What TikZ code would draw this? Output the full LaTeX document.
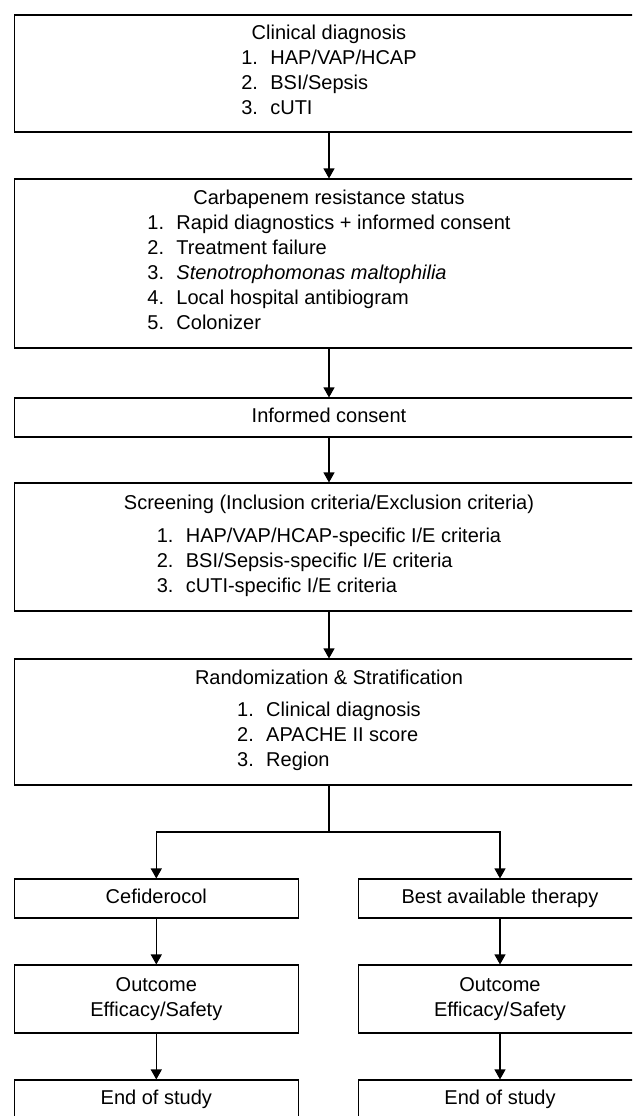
\documentclass[tikz,border=0pt]{standalone}
\usepackage{fontspec}
\setmainfont{Liberation Sans}
\usetikzlibrary{arrows.meta}

% numero de item con sangria fija
\newcommand{\itemnum}[2]{\makebox[29pt][l]{#1}#2}

\begin{document}
\begin{tikzpicture}[x=1pt, y=-1pt,
    caja/.style={draw, line width=1.1pt, align=center, inner sep=0pt,
      font=\fontsize{20}{25}\selectfont},
    ancha/.style={caja, minimum width=629pt},
    rama/.style={caja, minimum width=283.5pt},
    flecha/.style={line width=1.1pt, -{Triangle[width=11pt,length=10pt]}}]
    \useasboundingbox (0,0) rectangle (632,1116);
    \clip (0,0) rectangle (632,1116);

    % -----------------------------------------------------
    % 1) Diagnostico clinico
    % -----------------------------------------------------
    \node[ancha, minimum height=117pt] (diag) at (329,73.5)
      {Clinical diagnosis\\
       \begin{tabular}[t]{@{}l@{}}
         \itemnum{1.}{HAP/VAP/HCAP}\\
         \itemnum{2.}{BSI/Sepsis}\\
         \itemnum{3.}{cUTI}
       \end{tabular}};

    % -----------------------------------------------------
    % 2) Resistencia a carbapenemicos
    % -----------------------------------------------------
    \node[ancha, minimum height=169pt] (carb) at (329,263.5)
      {Carbapenem resistance status\\
       \begin{tabular}[t]{@{}l@{}}
         \itemnum{1.}{Rapid diagnostics + informed consent}\\
         \itemnum{2.}{Treatment failure}\\
         \itemnum{3.}{\textit{Stenotrophomonas maltophilia}}\\
         \itemnum{4.}{Local hospital antibiogram}\\
         \itemnum{5.}{Colonizer}
       \end{tabular}};

    % -----------------------------------------------------
    % 3) Consentimiento
    % -----------------------------------------------------
    \node[ancha, minimum height=39pt] (cons) at (329,417.5) {\strut Informed consent};

    % -----------------------------------------------------
    % 4) Tamizaje
    % -----------------------------------------------------
    \node[ancha, minimum height=128pt] (scr) at (329,547)
      {Screening (Inclusion criteria/Exclusion criteria)\\[8pt]
       \begin{tabular}[t]{@{}l@{}}
         \itemnum{1.}{HAP/VAP/HCAP-specific I/E criteria}\\
         \itemnum{2.}{BSI/Sepsis-specific I/E criteria}\\
         \itemnum{3.}{cUTI-specific I/E criteria}
       \end{tabular}};

    % -----------------------------------------------------
    % 5) Aleatorizacion
    % -----------------------------------------------------
    \node[ancha, minimum height=126pt] (rand) at (329,722)
      {Randomization \& Stratification\\[7pt]
       \begin{tabular}[t]{@{}l@{}}
         \itemnum{1.}{Clinical diagnosis}\\
         \itemnum{2.}{APACHE II score}\\
         \itemnum{3.}{Region}
       \end{tabular}};

    % -----------------------------------------------------
    % 6) Dos brazos
    % -----------------------------------------------------
    \node[rama, minimum height=39pt] (cef) at (156.3,898.5) {\strut Cefiderocol};
    \node[rama, minimum height=39pt] (bat) at (500,898.5) {\strut Best available therapy};
    \node[rama, minimum height=68pt] (outl) at (156.3,999) {Outcome\\Efficacy/Safety};
    \node[rama, minimum height=68pt] (outr) at (500,999) {Outcome\\Efficacy/Safety};
    \node[rama, minimum height=39pt] (endl) at (156.3,1099.5) {\strut End of study};
    \node[rama, minimum height=39pt] (endr) at (500,1099.5) {\strut End of study};

    % Flechas
    \draw[flecha] (diag) -- (carb);
    \draw[flecha] (carb) -- (cons);
    \draw[flecha] (cons) -- (scr);
    \draw[flecha] (scr) -- (rand);
    \coordinate (split) at (329,832);
    \draw[line width=1.1pt] (rand.south) -- (split);
    \draw[flecha] (split) -| (cef.north);
    \draw[flecha] (split) -| (bat.north);
    \draw[flecha] (cef) -- (outl);
    \draw[flecha] (bat) -- (outr);
    \draw[flecha] (outl) -- (endl);
    \draw[flecha] (outr) -- (endr);

\end{tikzpicture}
\end{document}
